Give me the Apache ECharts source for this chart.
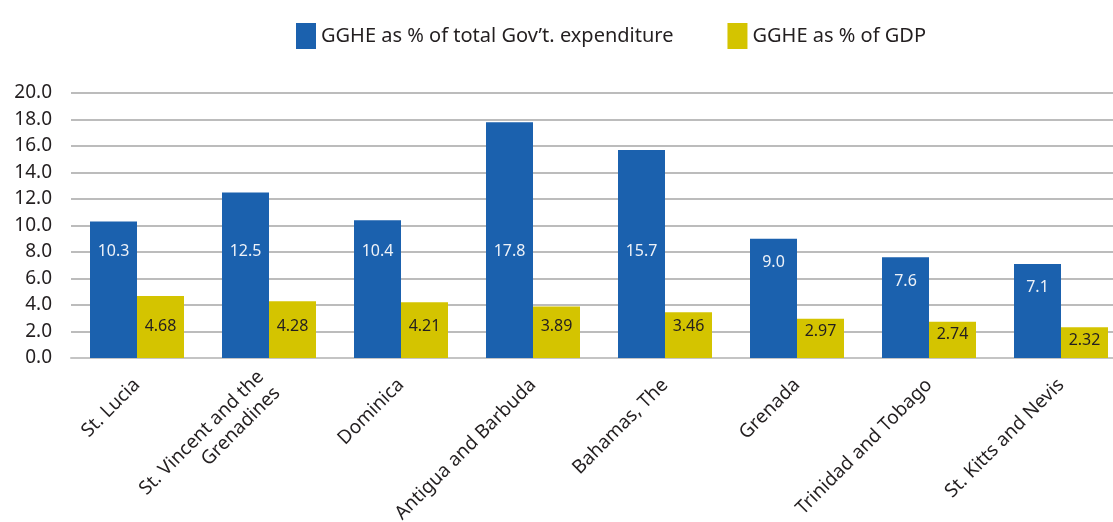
<!DOCTYPE html>
<html><head><meta charset="utf-8">
<script src="https://cdn.jsdelivr.net/npm/echarts@6/dist/echarts.min.js"></script>
<style>html,body{margin:0;padding:0;background:#fff}#c{width:1113px;height:522px}</style>
</head><body><div id="c"></div>
<script>
const categories = ["St. Lucia","St. Vincent and the\nGrenadines","Dominica","Antigua and Barbuda","Bahamas, The","Grenada","Trinidad and Tobago","St. Kitts and Nevis"];
const seriesNames = ["GGHE as % of total Gov\u2019t. expenditure","GGHE as % of GDP"];
const govExp = [10.3,12.5,10.4,17.8,15.7,9.0,7.6,7.1];
const gdp = [4.68,4.28,4.21,3.89,3.46,2.97,2.74,2.32];
const yTicks = {min:0,max:20,interval:2};

const FONT = '"Noto Sans", "Open Sans", sans-serif';
const chart = echarts.init(document.getElementById('c'));
const option = {
  animation:false,
  textStyle:{fontFamily:FONT},
  legend:{
    top:18, left:291, itemWidth:20, itemHeight:26, itemGap:54,
    icon:'rect',
    textStyle:{fontSize:20, color:'#231f20', fontFamily:FONT},
    data:seriesNames
  },
  grid:{left:71, top:93, right:-14, bottom:164, containLabel:false, outerBoundsMode:'none'},
  xAxis:{
    type:'category', data:categories,
    axisTick:{show:false},
    axisLine:{lineStyle:{color:'#c4c4c4', width:2}},
    axisLabel:{rotate:45, interval:0, margin:24, fontSize:19, color:'#231f20', fontFamily:FONT, lineHeight:23, align:'right'}
  },
  yAxis:{
    type:'value', min:yTicks.min, max:yTicks.max, interval:yTicks.interval,
    axisLine:{show:false}, axisTick:{show:false},
    axisLabel:{formatter:v=>v.toFixed(1), fontSize:19, color:'#231f20', fontFamily:FONT, margin:19},
    splitLine:{lineStyle:{color:'#a6a6a6', width:1.5}}
  },
  series:[
    {name:seriesNames[0], type:'bar', data:govExp, barWidth:47, barGap:'0%',
     itemStyle:{color:'#1b61ae'},
     label:{show:true, position:'insideTop', distance:22, color:'#eef2f8', fontSize:16, fontFamily:FONT, formatter:p=>p.value.toFixed(1)}},
    {name:seriesNames[1], type:'bar', data:gdp, barWidth:47, barGap:'0%',
     itemStyle:{color:'#d4c400'},
     label:{show:true, position:'insideTop', distance:12, color:'#231f20', fontSize:16, fontFamily:FONT, formatter:p=>p.value.toFixed(2)}}
  ]
};
chart.setOption(option);
// place labels: centre at a fixed level unless the bar is too short
function place(vals, levelValue, minOffset){
  const yLevel = chart.convertToPixel({yAxisIndex:0}, levelValue);
  return vals.map(v => {
    const yTop = chart.convertToPixel({yAxisIndex:0}, v);
    const off = Math.max(yLevel - yTop, minOffset);
    return {value:v, label:{position:['50%', off], align:'center', verticalAlign:'middle'}};
  });
}
chart.setOption({series:[
  {data:place(govExp, 8.05, 24)},
  {data:place(gdp, 2.4, 13)}
]});
</script></body></html>
